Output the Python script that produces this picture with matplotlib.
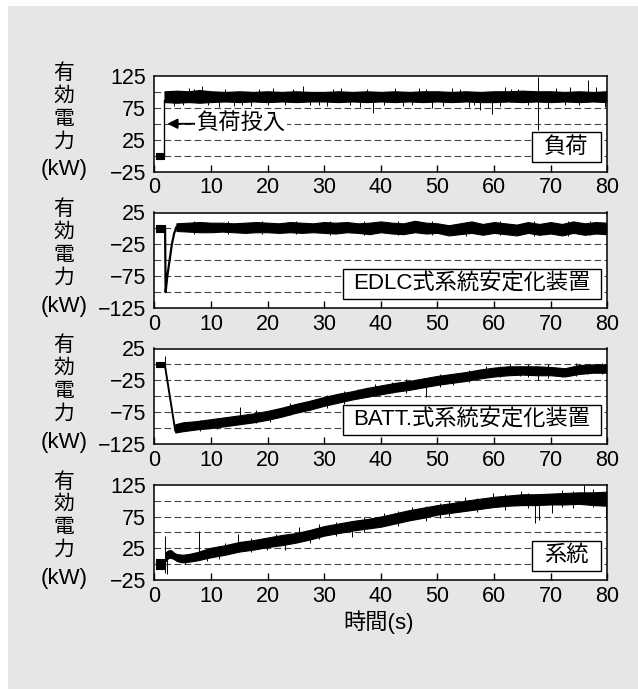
import matplotlib
matplotlib.use('Agg')
import matplotlib.pyplot as plt
from matplotlib.patches import Rectangle

plt.rcParams['font.family'] = ['Liberation Sans', 'Noto Sans CJK JP']

# ---------------- data ----------------
x_ticks = [0, 10, 20, 30, 40, 50, 60, 70, 80]

# panel 1: load
load_pre_t = [0.3, 1.75]
load_pre_lo = [-5, -5]
load_pre_hi = [4, 4]
load_step_t = [1.75, 1.75]
load_step_p = [0, 88]
load_t = [1.8, 4, 6, 8, 10, 12.5, 15, 17.5, 20, 22.5, 25, 27.5, 30, 32.5, 35, 37.5,
          40, 42.5, 45, 47.5, 50, 52.5, 55, 57.5, 60, 62.5, 65, 67.5, 70, 72.5, 75, 77.5, 79.8]
load_lo = [84, 83, 84, 83, 84, 85, 84, 85, 84, 85, 84, 85, 85, 84, 85, 84,
           85, 84, 85, 84, 85, 84, 85, 84, 84, 85, 84, 85, 84, 85, 84, 85, 84]
load_hi = [101, 102, 101, 103, 101, 100, 101, 100, 101, 100, 101, 100, 100, 101, 100, 101,
           100, 101, 100, 101, 101, 100, 101, 100, 101, 101, 102, 101, 101, 100, 101, 100, 101]
load_spikes = [(3.5, 78, 100), (5, 79, 92), (6.2, 84, 106), (7, 84, 104), (8.5, 84, 110),
               (9.5, 80, 92), (11.5, 77, 100), (12.5, 84, 104), (14, 78, 100), (15.5, 79, 92),
               (17, 78, 100), (18.5, 84, 105), (20, 80, 92), (21, 84, 106), (23, 79, 100),
               (24.5, 84, 104), (26.3, 84, 109), (27.5, 80, 92), (29, 79, 100), (30.5, 78, 100),
               (31.5, 84, 104), (33, 84, 106), (34.5, 80, 92), (36.3, 76, 100), (37.5, 84, 105),
               (38.7, 67, 100), (40.5, 79, 92), (42.5, 84, 106), (44, 78, 100), (45.5, 80, 92),
               (46.8, 84, 106), (48, 84, 105), (49.0, 74, 100), (51, 78, 92), (52.5, 84, 106),
               (54, 84, 105), (55.5, 76, 100), (56.5, 79, 92), (57.5, 72, 100), (59.6, 66, 100),
               (61, 78, 92), (62, 84, 107), (63, 84, 104), (64.2, 84, 105), (66, 79, 92),
               (67.8, 40, 123), (69.6, 74, 100), (71, 84, 106), (72.5, 79, 92), (73.5, 84, 107),
               (75, 80, 92), (76.6, 84, 118), (78, 84, 108), (79.6, 77, 100)]

# panel 2: EDLC
edlc_pre_t = [0.3, 1.9]
edlc_pre_lo = [-5, -5]
edlc_pre_hi = [6, 6]
edlc_drop_t = [1.9, 2.0, 2.3, 2.7, 3.1, 3.5, 3.9]
edlc_drop_p = [0, -100, -75, -50, -25, -8, 2]
edlc_t = [3.9, 6, 8, 10, 12, 14, 16, 18, 20, 22, 24, 26, 28, 30, 32, 34, 36, 38, 40, 42,
          44, 46, 48, 50, 52, 54, 56, 58, 60, 62, 64, 66, 68, 70, 72, 74, 76, 78, 79.8]
edlc_lo = [-4, -5, -6, -6, -5, -6, -7, -6, -6, -7, -6, -7, -6, -7, -8, -6, -7, -9, -6, -8,
           -9, -6, -8, -7, -11, -9, -7, -10, -7, -9, -11, -7, -10, -8, -11, -7, -10, -8, -9]
edlc_hi = [8, 9, 10, 9, 9, 8, 9, 10, 9, 8, 10, 9, 8, 10, 9, 10, 8, 9, 11, 9,
           8, 12, 9, 8, 5, 8, 11, 7, 10, 8, 6, 10, 7, 10, 7, 11, 8, 10, 9]
edlc_spikes = [(7, -8, 11), (13, -8, 11), (19, -9, 11), (25, -9, 12), (31, -10, 12),
               (37, -10, 11), (43, -11, 11), (49, -10, 12), (55, -12, 10), (61, -11, 12),
               (67, -12, 12), (73, -12, 11), (77, -11, 12)]

# panel 3: BATT
batt_pre_t = [0.3, 1.85]
batt_pre_lo = [-4, -4]
batt_pre_hi = [4, 4]
batt_drop_t = [1.85, 3.7]
batt_drop_p = [0, -104]
batt_t = [3.7, 5, 7.5, 10, 12.5, 15, 17.5, 20, 22.5, 25, 27.5, 30, 32.5, 35, 37.5, 40,
          42.5, 45, 47.5, 50, 52.5, 55, 57.5, 60, 62.5, 65, 67.5, 70, 72.5, 75, 77.5, 79.8]
batt_lo = [-107, -105, -102, -100, -97, -94, -91, -87, -82, -76, -71, -65, -60, -55, -51, -47,
           -43, -40, -36, -32, -29, -26, -22, -19, -17, -16, -17, -17, -19, -15, -13, -13]
batt_hi = [-94, -91, -89, -86, -83, -80, -77, -73, -68, -62, -57, -51, -46, -42, -37, -33,
           -29, -26, -22, -18, -15, -12, -8, -5, -3, -3, -3, -4, -6, -1, 0, 0]
batt_spikes = [(1.9, 0, 13), (8, -104, -88), (11, -101, -84), (15.2, -88, -67), (18, -92, -72),
               (20.5, -90, -75), (24, -80, -60), (27.5, -72, -57), (30.5, -68, -48),
               (33.5, -62, -42), (36, -50, -38), (39, -50, -30), (42.0, -45, -28),
               (44.5, -45, -23), (47.9, -51, -30), (50.5, -35, -15), (52.7, -33, -18),
               (55.5, -28, -8), (58.6, -16, -2), (61.0, -20, -3), (62.8, -12, 0),
               (64.5, -18, -3), (66, -20, 0), (67.8, -25, -8), (69.5, -22, 0), (72.0, -20, -5),
               (74.5, -18, 2), (76.5, -15, 0), (79, -15, 2)]

# panel 4: grid
grid_pre_t = [0.3, 1.95]
grid_pre_lo = [-7, -7]
grid_pre_hi = [8, 8]
grid_t = [2.0, 2.5, 3.0, 3.5, 4.0, 5.0, 6.0, 7.5, 10, 12.5, 15, 17.5, 20, 22.5, 25, 27.5, 30,
          32.5, 35, 37.5, 40, 42.5, 45, 47.5, 50, 52.5, 55, 57.5, 60, 62.5, 65, 67.5, 70,
          72.5, 75, 77.5, 79.8]
grid_lo = [5, 10, 10, 8, 5, 3, 4, 6, 11, 15, 20, 23, 27, 30, 34, 39, 45,
           49, 53, 56, 59, 64, 69, 73, 78, 81, 84, 87, 90, 92, 93, 93, 94, 94, 95, 93, 92]
grid_hi = [19, 22, 22, 18, 16, 15, 16, 19, 26, 30, 35, 38, 42, 46, 49, 54, 60,
           64, 68, 71, 75, 80, 85, 89, 93, 96, 100, 103, 106, 108, 110, 110, 111, 112, 113, 113, 114]
grid_spikes = [(1.95, -14, 44), (2.2, -16, 10), (4.7, 3, 12), (5.4, 0, 10), (7.95, 15, 53),
               (9.3, 5, 20), (11.5, 8, 22), (12.5, 14, 33), (14.8, 25, 47), (17, 20, 42),
               (19.9, 22, 35), (21.5, 28, 48), (23.0, 22, 40), (25.5, 40, 58), (27.5, 33, 48),
               (29, 40, 63), (32, 45, 67), (34.9, 43, 60), (37, 50, 75), (40.5, 65, 80),
               (43, 60, 83), (45.5, 70, 90), (48, 68, 92), (50.5, 73, 97), (52, 76, 100),
               (54.8, 88, 105), (57, 82, 104), (59.8, 95, 112), (62, 86, 110), (64.8, 100, 115),
               (66, 88, 112), (67.2, 65, 95), (68.0, 70, 95), (70.3, 80, 96), (72, 90, 116),
               (74, 88, 115), (75.9, 105, 124), (77.5, 90, 118), (79.8, 70, 95)]

# ---------------- layout ----------------
W, H = 638, 689
AX_L, AX_W, AX_H = 154.3, 453, 95.5
panel_tops = [76, 212.5, 348.5, 484.7]

fig = plt.figure(figsize=(W / 100, H / 100), dpi=100, facecolor='white')
fig.patches.append(Rectangle((8 / W, 0), 1, (H - 6) / H,
                             transform=fig.transFigure, facecolor='#e6e6e6',
                             edgecolor='none', zorder=-10))


def make_axes(top):
    return fig.add_axes([AX_L / W, 1 - (top + AX_H) / H, AX_W / W, AX_H / H])


def draw_panel(ax, ylim, grid_y, pre, band, spikes, label, box_w):
    ax.set_xlim(0, 80)
    ax.set_ylim(*ylim)
    ax.set_yticks([ylim[0], ylim[0] + 50, ylim[0] + 100, ylim[1]])
    ax.set_xticks(x_ticks)
    ax.tick_params(axis='y', length=0, pad=6, labelsize=15.5)
    ax.tick_params(axis='x', direction='in', length=5, width=1, pad=4, labelsize=15.5)
    for s in ax.spines.values():
        s.set_linewidth(1.1)
    for g in grid_y:
        ax.axhline(g, color='#444444', lw=0.8, ls=(0, (6, 3)), zorder=1)

    ax.fill_between(pre[0], pre[1], pre[2], color='black', lw=0.8, zorder=3)
    ax.fill_between(band[0], band[1], band[2], color='black', lw=0.8, zorder=3)
    if spikes:
        st, slo, shi = zip(*spikes)
        ax.vlines(st, slo, shi, color='black', lw=0.7, zorder=3)

    # label box in the lower right corner
    bw = box_w / AX_W
    bh = 30 / AX_H
    x0 = 1 - 6.6 / AX_W - bw
    y0 = 9.5 / AX_H
    ax.add_patch(Rectangle((x0, y0), bw, bh, transform=ax.transAxes,
                           facecolor='white', edgecolor='black', lw=1.0, zorder=6))
    ax.text(x0 + bw / 2, y0 + bh / 2, label, transform=ax.transAxes,
            ha='center', va='center', fontsize=16, zorder=7)


def ylabel_stack(top):
    cx = 64 / W
    for i, ch in enumerate('有効電力'):
        fig.text(cx, 1 - (top - 3 + 23 * i) / H, ch, ha='center', va='center', fontsize=15)
    fig.text(cx, 1 - (top + 94) / H, '(kW)', ha='center', va='center', fontsize=16)


# panel 1
ax1 = make_axes(panel_tops[0])
draw_panel(ax1, (-25, 125), [0, 25, 50, 75, 100],
           (load_pre_t, load_pre_lo, load_pre_hi), (load_t, load_lo, load_hi),
           load_spikes, '負荷', 68.7)
ax1.plot(load_step_t, load_step_p, color='black', lw=1.0, zorder=3)
ax1.annotate('', xy=(2.3, 50), xytext=(7.1, 50),
             arrowprops=dict(arrowstyle='-|>', color='black', lw=1.3,
                             mutation_scale=15, shrinkA=0, shrinkB=0), zorder=5)
ax1.text(7.5, 50, '負荷投入', ha='left', va='center', fontsize=16, zorder=5,
         bbox=dict(facecolor='white', edgecolor='none', pad=1))

# panel 2
ax2 = make_axes(panel_tops[1])
draw_panel(ax2, (-125, 25), [0, -25, -50, -75, -100],
           (edlc_pre_t, edlc_pre_lo, edlc_pre_hi), (edlc_t, edlc_lo, edlc_hi),
           edlc_spikes, 'EDLC式系統安定化装置', 258)
ax2.plot(edlc_drop_t, edlc_drop_p, color='black', lw=1.6, zorder=3)

# panel 3
ax3 = make_axes(panel_tops[2])
draw_panel(ax3, (-125, 25), [0, -25, -50, -75, -100],
           (batt_pre_t, batt_pre_lo, batt_pre_hi), (batt_t, batt_lo, batt_hi),
           batt_spikes, 'BATT.式系統安定化装置', 258)
ax3.plot(batt_drop_t, batt_drop_p, color='black', lw=1.4, zorder=3)

# panel 4
ax4 = make_axes(panel_tops[3])
draw_panel(ax4, (-25, 125), [0, 25, 50, 75, 100],
           (grid_pre_t, grid_pre_lo, grid_pre_hi), (grid_t, grid_lo, grid_hi),
           grid_spikes, '系統', 68.7)

for top in panel_tops:
    ylabel_stack(top)

fig.text(379 / W, 1 - 622 / H, '時間(s)', ha='center', va='center', fontsize=16)

fig.savefig('out.png', dpi=100, facecolor=fig.get_facecolor())
